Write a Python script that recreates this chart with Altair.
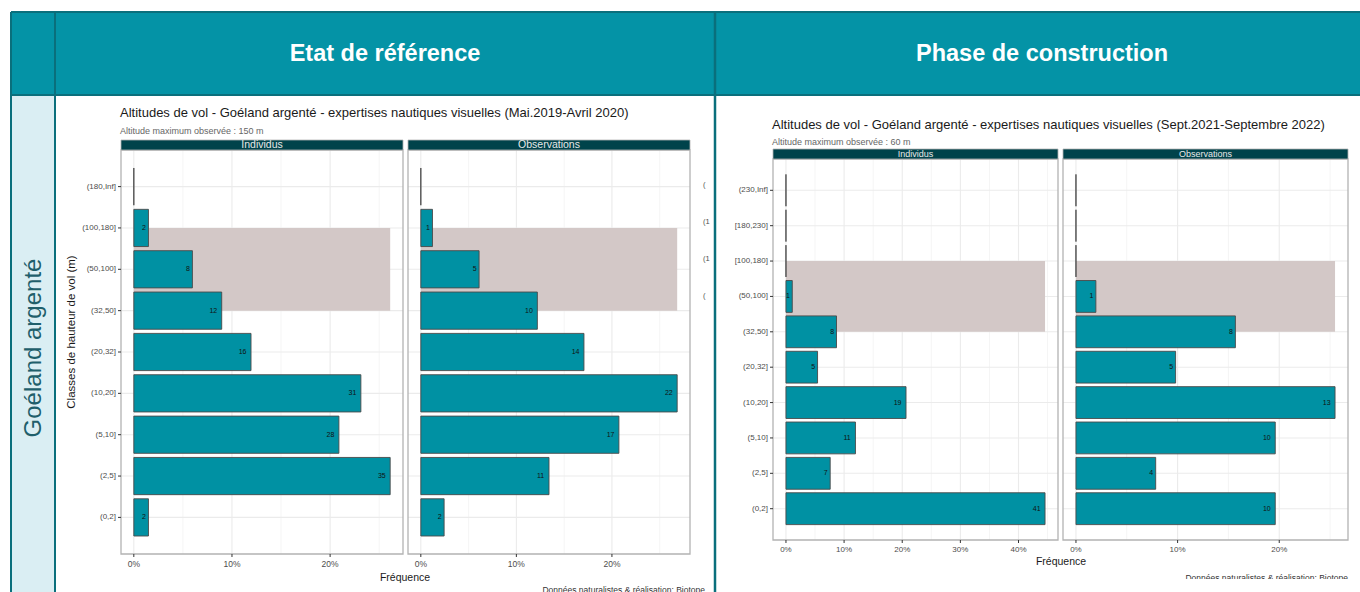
import altair as alt
import pandas as pd

# ---------------- data ----------------
# Reference state (Mai 2019 - Avril 2020)
classes_ref = ["(0,2]", "(2,5]", "(5,10]", "(10,20]", "(20,32]", "(32,50]",
               "(50,100]", "(100,180]", "(180,Inf]"]
individus_ref = [2, 35, 28, 31, 16, 12, 8, 2, 0]
observations_ref = [2, 11, 17, 22, 14, 10, 5, 1, 0]
zone_ref = ["(32,50]", "(100,180]"]
ticks_ref = [0, 10, 20]

# Construction phase (Sept 2021 - Septembre 2022)
classes_cons = ["(0,2]", "(2,5]", "(5,10]", "(10,20]", "(20,32]", "(32,50]",
                "(50,100]", "[100,180]", "[180,230]", "(230,Inf]"]
individus_cons = [41, 7, 11, 19, 5, 8, 1, 0, 0, 0]
observations_cons = [10, 4, 10, 13, 5, 8, 1, 0, 0, 0]
zone_cons = ["(32,50]", "[100,180]"]
ticks_cons_ind = [0, 10, 20, 30, 40]
ticks_cons_obs = [0, 10, 20]

col_headers = ["Etat de référence", "Phase de construction"]
row_header = "Goéland argenté"
facet_labels = ["Individus", "Observations"]
title_ref = "Altitudes de vol - Goéland argenté - expertises nautiques visuelles (Mai.2019-Avril 2020)"
subtitle_ref = "Altitude maximum observée : 150 m"
title_cons = "Altitudes de vol - Goéland argenté - expertises nautiques visuelles (Sept.2021-Septembre 2022)"
subtitle_cons = "Altitude maximum observée : 60 m"
y_title = "Classes de hauteur de vol (m)"
x_title = "Fréquence"
caption = "Données naturalistes & réalisation: Biotope"
clipped_labels = ["(", "(1", "(1", "("]

# ---------------- style ----------------
W, H = 1360, 592
FONT = "Liberation Sans"
TEAL = "#0493a6"
BORDER = "#0a6f7c"
PALE = "#daeef3"
BAR = "#0091a3"
BAR_EDGE = "#4a4a4a"
STRIP = "#00434b"
ZONE = "#d3c8c7"
GRID = "#ebebeb"
GRID_MINOR = "#f5f5f5"
FRAME = "#b3b3b3"

one = pd.DataFrame({"k": [0]})


def box(x0, x1, y0, y1, **mark):
    return alt.Chart(one).mark_rect(**mark).encode(
        x=alt.value(x0), x2=alt.value(x1), y=alt.value(y0), y2=alt.value(y1))


def line(x0, x1, y0, y1, color, width):
    return alt.Chart(one).mark_rule(color=color, strokeWidth=width).encode(
        x=alt.value(x0), x2=alt.value(x1), y=alt.value(y0), y2=alt.value(y1))


def label(txt, x, y, size, color="#1a1a1a", align="center", baseline="middle",
          weight="normal", angle=0):
    return alt.Chart(one).mark_text(
        text=txt, fontSize=size, color=color, align=align, baseline=baseline,
        fontWeight=weight, angle=angle, font=FONT).encode(
        x=alt.value(x), y=alt.value(y))


def panel(classes, counts, ticks, zone, x0, x1, y0, y1, strip, y_axis,
          strip_size=9, tick_size=8):
    """One facet panel: grid, highlighted zone, bars, counts, axes, strip."""
    n = len(classes)
    total = sum(counts)
    df = pd.DataFrame({"classe": classes, "n": counts,
                       "rang": [n - 1 - i for i in range(n)]})
    df["pct"] = df["n"] / total * 100
    fmax = df["pct"].max()
    pad = 0.885
    xs = alt.Scale(domain=[-0.05 * fmax, 1.05 * fmax], range=[x0, x1], nice=False, zero=False)
    ys = alt.Scale(domain=[-pad, n - 1 + pad], range=[y0, y1], nice=False, zero=False)

    major = pd.DataFrame({"v": ticks, "lab": [f"{t}%" for t in ticks]})
    minor = pd.DataFrame({"v": [t + 5 for t in ticks if t + 5 <= 1.05 * fmax]})
    rang = dict(zip(df["classe"], df["rang"]))
    zdf = pd.DataFrame({"bas": [rang[zone[0]]], "haut": [rang[zone[1]]], "fmax": [fmax]})

    X = lambda f: alt.X(f, scale=xs, axis=None)
    Y = lambda f: alt.Y(f, scale=ys, axis=None)
    layers = [
        alt.Chart(minor).mark_rule(color=GRID_MINOR, strokeWidth=1).encode(
            x=X("v:Q"), y=alt.value(y0), y2=alt.value(y1)),
        alt.Chart(major).mark_rule(color=GRID, strokeWidth=1.1).encode(
            x=X("v:Q"), y=alt.value(y0), y2=alt.value(y1)),
        alt.Chart(df).mark_rule(color=GRID, strokeWidth=1.1).encode(
            y=Y("rang:Q"), x=alt.value(x0), x2=alt.value(x1)),
        alt.Chart(zdf).mark_rect(fill=ZONE)
        .transform_calculate(base="0")
        .encode(x=X("base:Q"), x2="fmax:Q", y=Y("bas:Q"), y2="haut:Q"),
        alt.Chart(df).mark_rect(fill=BAR, stroke=BAR_EDGE, strokeWidth=0.9)
        .transform_calculate(base="0", lo="datum.rang - 0.45", hi="datum.rang + 0.45")
        .encode(x=X("base:Q"), x2="pct:Q", y=Y("lo:Q"), y2="hi:Q"),
        alt.Chart(df).transform_filter("datum.n > 0 && datum.n < 10")
        .mark_text(fontSize=7, color="#111111", font=FONT, dx=-4.4)
        .encode(x=X("pct:Q"), y=Y("rang:Q"), text="n:Q"),
        alt.Chart(df).transform_filter("datum.n >= 10")
        .mark_text(fontSize=7, color="#111111", font=FONT, dx=-8.4)
        .encode(x=X("pct:Q"), y=Y("rang:Q"), text="n:Q"),
        box(x0, x1, y0, y1, fillOpacity=0, stroke=FRAME, strokeWidth=1.3),
        box(x0, x1, y0 - 10, y0, fill=STRIP, stroke=FRAME, strokeWidth=0.8),
        label(strip, (x0 + x1) / 2, y0 - 5, strip_size, color="#e8e8e8"),
        alt.Chart(major).mark_rule(color="#333333", strokeWidth=1).encode(
            x=X("v:Q"), y=alt.value(y1), y2=alt.value(y1 + 3)),
        alt.Chart(major).mark_text(fontSize=tick_size, color="#4d4d4d", font=FONT,
                                   baseline="middle").encode(
            x=X("v:Q"), y=alt.value(y1 + 10), text="lab:N"),
    ]
    if y_axis:
        layers += [
            alt.Chart(df).mark_rule(color="#333333", strokeWidth=1).encode(
                y=Y("rang:Q"), x=alt.value(x0 - 3), x2=alt.value(x0)),
            alt.Chart(df).mark_text(fontSize=8, color="#4d4d4d", font=FONT,
                                    align="right", baseline="middle").encode(
                y=Y("rang:Q"), x=alt.value(x0 - 5), text="classe:N"),
        ]
    return layers


layers = []

# ---- table frame ----
layers += [
    box(11, W, 12, 95, fill=TEAL),
    box(11, 55, 95, H, fill=PALE),
    line(11, W, 12, 12, BORDER, 2),
    line(11, W, 95, 95, BORDER, 2),
    line(11, 11, 12, H, BORDER, 2),
    line(55, 55, 12, H, BORDER, 2),
    line(715, 715, 12, H, BORDER, 2.5),
    label(col_headers[0], 385, 54, 23.5, color="white", weight="bold"),
    label(col_headers[1], 1042, 54, 23.5, color="white", weight="bold"),
    label(row_header, 34, 348, 24, color="#1f5f6b", angle=270),
]

# ---- reference chart ----
layers += [
    label(title_ref, 120, 113, 13, align="left"),
    label(subtitle_ref, 120, 131, 9, color="#666666", align="left"),
    label(y_title, 72, 332, 11.5, angle=270),
    label(x_title, 405, 578, 10.5),
    label(caption, 705, 586, 8.5, color="#333333", align="right", baseline="top"),
]
for i, lab in enumerate(clipped_labels):
    layers.append(label(lab, 703, 185 + 37 * i, 7.5, color="#4d4d4d", align="left"))
layers += panel(classes_ref, individus_ref, ticks_ref, zone_ref,
                121, 403, 150, 554, facet_labels[0], True, 10.5, 8.5)
layers += panel(classes_ref, observations_ref, ticks_ref, zone_ref,
                408, 690, 150, 554, facet_labels[1], False, 10.5, 8.5)

# ---- construction chart ----
layers += [
    label(title_cons, 772, 125, 13, align="left"),
    label(subtitle_cons, 772, 142, 9, color="#666666", align="left"),
    label(x_title, 1061, 562, 10.5),
    label(caption, 1348, 574, 8.5, color="#333333", align="right", baseline="top"),
    box(1150, W, 579, H, fill="white"),
]
layers += panel(classes_cons, individus_cons, ticks_cons_ind, zone_cons,
                773, 1058, 159, 540, facet_labels[0], True, 9, 8)
layers += panel(classes_cons, observations_cons, ticks_cons_obs, zone_cons,
                1063, 1348, 159, 540, facet_labels[1], False, 9, 8)

chart = (
    alt.layer(*layers, data=one)
    .resolve_scale(x="independent", y="independent")
    .properties(width=W, height=H, padding=0,
                autosize=alt.AutoSizeParams(type="none"), background="white")
    .configure_view(strokeWidth=0)
)

chart.save("out.html", embed_options={"renderer": "svg", "actions": False})
